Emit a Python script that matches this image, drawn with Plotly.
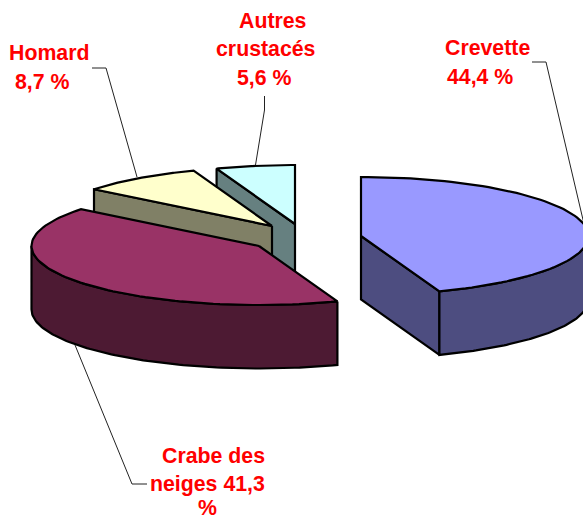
import numpy as np
import plotly.graph_objects as go

# Data
categories = ["Crevette", "Crabe des neiges", "Homard", "Autres crustacés"]
shares = [44.4, 41.3, 8.7, 5.6]

# Label lines as printed in the chart
label_lines = [
    ["Crevette", "44,4 %"],
    ["Crabe des", "neiges 41,3", "%"],
    ["Homard", "8,7 %"],
    ["Autres", "crustacés", "5,6 %"],
]

# Styles
top_colors = ["#9999FF", "#993366", "#FFFFCC", "#CCFFFF"]
side_colors = ["#4D4D80", "#4D1A33", "#808066", "#668080"]
text_color = "#FF0000"
font_family = "Liberation Sans, Arial, sans-serif"
font_size = 21.3

# Layout (pixels in a 583x521 coordinate space)
W, H = 583, 521
rx, ry, depth = 227.5, 59, 63.5
apex = [(361, 236), (259, 246), (272, 226), (295, 224)]
label_x = [[487, 480], [213, 207, 207], [48.5, 42.5], [272, 265, 264.5]]
label_y = [[48, 77], [456, 484, 508], [53, 82], [21, 49, 78]]
leaders = [
    ([532, 546, 584], [62, 62, 224]),
    ([75, 132, 147], [345, 484, 484]),
    ([92, 106, 137], [68, 68, 177]),
    ([264.5, 264.5, 255.5], [96, 110, 165]),
]

# Clockwise angle from 12 o'clock for each slice boundary
edges = np.concatenate([[0], np.cumsum(shares)]) / sum(shares) * 2 * np.pi


def arc(i, a0, a1, dy=0.0):
    t = np.linspace(a0, a1, 90)
    cx, cy = apex[i]
    return cx + rx * np.sin(t), cy - ry * np.cos(t) + dy


fig = go.Figure()


def poly(x, y, color):
    fig.add_trace(go.Scatter(
        x=list(x) + [x[0]], y=list(y) + [y[0]], mode="lines", fill="toself",
        fillcolor=color, line=dict(color="#000000", width=2.2),
        hoverinfo="skip", showlegend=False,
    ))


def radial_face(i, a):
    ax, ay = arc(i, a, a)
    cx, cy = apex[i]
    poly([cx, ax[0], ax[0], cx], [cy, ay[0], ay[0] + depth, cy + depth], side_colors[i])


def outer_wall(i, a0, a1):
    x0, y0 = arc(i, a0, a1)
    x1, y1 = arc(i, a1, a0, depth)
    poly(np.concatenate([x0, x1]), np.concatenate([y0, y1]), side_colors[i])


def top_face(i):
    x, y = arc(i, edges[i], edges[i + 1])
    cx, cy = apex[i]
    poly(np.concatenate([[cx], x]), np.concatenate([[cy], y]), top_colors[i])


# Back to front
radial_face(3, edges[3])
top_face(3)
radial_face(2, edges[2])
top_face(2)
outer_wall(1, edges[1], 1.5 * np.pi)
top_face(1)
radial_face(0, edges[1])
outer_wall(0, 0.5 * np.pi, edges[1])
top_face(0)

for lx, ly in leaders:
    fig.add_trace(go.Scatter(
        x=lx, y=ly, mode="lines", line=dict(color="#222222", width=1),
        hoverinfo="skip", showlegend=False,
    ))

for lines, xs, ys in zip(label_lines, label_x, label_y):
    for s, x, y in zip(lines, xs, ys):
        fig.add_annotation(
            x=x, y=y, text=f"<b>{s}</b>", showarrow=False, xanchor="center", yanchor="middle",
            font=dict(family=font_family, size=font_size, color=text_color),
        )

fig.update_layout(
    width=W, height=H, margin=dict(l=0, r=0, t=0, b=0),
    paper_bgcolor="#FFFFFF", plot_bgcolor="#FFFFFF", showlegend=False,
    xaxis=dict(range=[0, W], visible=False, fixedrange=True),
    yaxis=dict(range=[H, 0], visible=False, fixedrange=True),
)

fig.write_html(
    "out.html", config=dict(displayModeBar=False),
    post_script="document.body.style.margin='0';",
)
